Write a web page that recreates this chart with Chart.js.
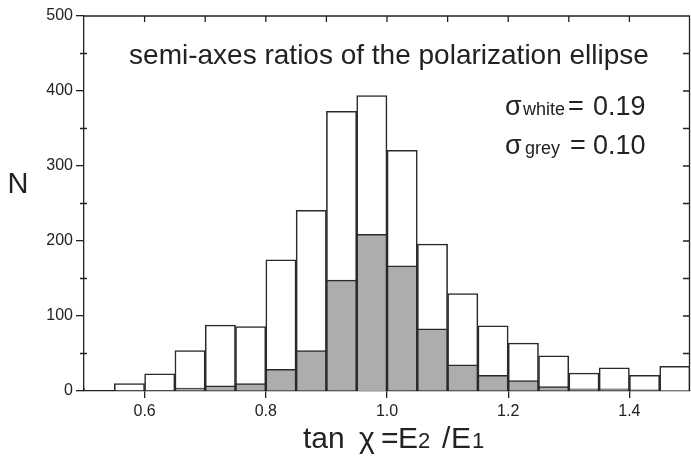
<!DOCTYPE html>
<html><head><meta charset="utf-8">
<script src="https://cdn.jsdelivr.net/npm/chart.js@4"></script>
<style>html,body{margin:0;padding:0;background:#fff}canvas{display:block}</style>
</head><body>
<canvas id="c" width="691" height="456"></canvas>
<script>
// Histogram bins (width 0.05), centres
const binCenters = [0.575,0.625,0.675,0.725,0.775,0.825,0.875,0.925,0.975,1.025,1.075,1.125,1.175,1.225,1.275,1.325,1.375,1.425,1.475];
const whiteCounts = [10,23,54,88,86,175,241,373,394,321,196,130,87,64,47,24,31,21,33];
const greyCounts  = [null,null,4,7,10,29,54,148,209,167,83,35,21,14,6,3,3,1.5,0.5];
const xTickValues = [0.6,0.8,1.0,1.2,1.4];
const xMinorValues = [0.5,0.7,0.9,1.1,1.3];
const topTickValues = [0.6,0.7,0.8,0.9,1.0,1.1,1.2,1.3,1.4];
const yTickValues = [0,100,200,300,400,500];
const yMinorValues = [50,150,250,350,450];
const rightTickValues = [50,100,150,200,250,300,350,400,450];
const titleText = 'semi-axes ratios of the polarization ellipse';

const FONT = '"Liberation Sans", Arial, Helvetica, sans-serif';

const framePlugin = {
  id: 'frame',
  afterDraw(chart) {
    const ctx = chart.ctx, a = chart.chartArea;
    const ys = chart.scales.y, xs = chart.scales.x;
    ctx.save();
    ctx.strokeStyle = '#222';
    ctx.lineWidth = 1.3;
    ctx.beginPath();
    ctx.moveTo(a.left, a.top); ctx.lineTo(a.right, a.top);
    ctx.moveTo(a.right - 0.5, a.top); ctx.lineTo(a.right - 0.5, a.bottom);
    yMinorValues.forEach(v => {
      const p = ys.getPixelForValue(v);
      ctx.moveTo(a.left - 4, p); ctx.lineTo(a.left + 3, p);
    });
    rightTickValues.forEach(v => {
      const p = ys.getPixelForValue(v);
      ctx.moveTo(a.right, p); ctx.lineTo(a.right - 7, p);
    });
    topTickValues.forEach(v => {
      const p = xs.getPixelForValue(v);
      ctx.moveTo(p, a.top); ctx.lineTo(p, a.top + 6);
    });
    xMinorValues.forEach(v => {
      const p = xs.getPixelForValue(v);
      ctx.moveTo(p, a.bottom); ctx.lineTo(p, a.bottom - 3);
    });
    ctx.stroke();

    ctx.fillStyle = '#222';
    ctx.textBaseline = 'alphabetic';
    ctx.textAlign = 'left';
    function put(t, x, y, size) { ctx.font = size + 'px ' + FONT; ctx.fillText(t, x, y); }

    // title text
    ctx.font = '28px ' + FONT;
    ctx.textAlign = 'center';
    ctx.fillText(titleText, 389, 64);
    ctx.textAlign = 'left';

    // sigma lines
    put('σ', 505, 115, 27);
    put('white', 523, 115, 18);
    put('=', 568, 115, 27);
    put('0.19', 593, 115, 27);
    put('σ', 505, 154, 27);
    put('grey', 525, 154, 18);
    put('=', 570, 154, 27);
    put('0.10', 593, 154, 27);

    // y title
    ctx.textAlign = 'center';
    put('N', 18, 193, 29);
    ctx.textAlign = 'left';

    // x title
    put('tan', 303, 448, 30);
    put('χ', 359, 448, 30);
    put('=', 381, 448, 30);
    put('E', 398, 448, 30);
    put('2', 418, 448, 22);
    put('/', 442, 448, 30);
    put('E', 451, 448, 30);
    put('1', 472, 448, 22);
    ctx.restore();
  }
};

new Chart(document.getElementById('c'), {
  type: 'bar',
  data: {
    datasets: [
      {
        label: 'grey',
        data: binCenters.map((c, i) => ({x: c, y: greyCounts[i]})),
        backgroundColor: '#adadad',
        borderColor: '#2a2a2a',
        borderWidth: 1.6,
        grouped: false,
        barPercentage: 1,
        categoryPercentage: 1,
        order: 0
      },
      {
        label: 'white',
        data: binCenters.map((c, i) => ({x: c, y: whiteCounts[i]})),
        backgroundColor: '#ffffff',
        borderColor: '#2a2a2a',
        borderWidth: 1.6,
        grouped: false,
        barPercentage: 1,
        categoryPercentage: 1,
        order: 1
      }
    ]
  },
  options: {
    responsive: false,
    animation: false,
    devicePixelRatio: 1,
    layout: { padding: { left: 0, right: 1, top: 16, bottom: 0 } },
    plugins: { legend: { display: false }, tooltip: { enabled: false } },
    scales: {
      x: {
        type: 'linear',
        min: 0.5, max: 1.5,
        offset: false,
        afterBuildTicks(s) { s.ticks = xTickValues.map(v => ({value: v})); },
        afterFit(s) { s.height = 65; },
        grid: { offset: false, drawOnChartArea: false, tickLength: 7, color: '#222', lineWidth: 1.3 },
        border: { color: '#222', width: 1.3 },
        ticks: {
          color: '#222', padding: 4,
          font: { family: FONT, size: 16 },
          callback: v => Number(v).toFixed(1)
        }
      },
      y: {
        min: 0, max: 500,
        afterBuildTicks(s) { s.ticks = yTickValues.map(v => ({value: v})); },
        afterFit(s) { s.width = 84; },
        grid: { offset: false, drawOnChartArea: false, tickLength: 8, color: '#222', lineWidth: 1.3 },
        border: { color: '#222', width: 1.3 },
        ticks: {
          color: '#222', padding: 3,
          font: { family: FONT, size: 16 },
          callback: v => String(v)
        }
      }
    }
  },
  plugins: [framePlugin]
});
</script>
</body></html>
